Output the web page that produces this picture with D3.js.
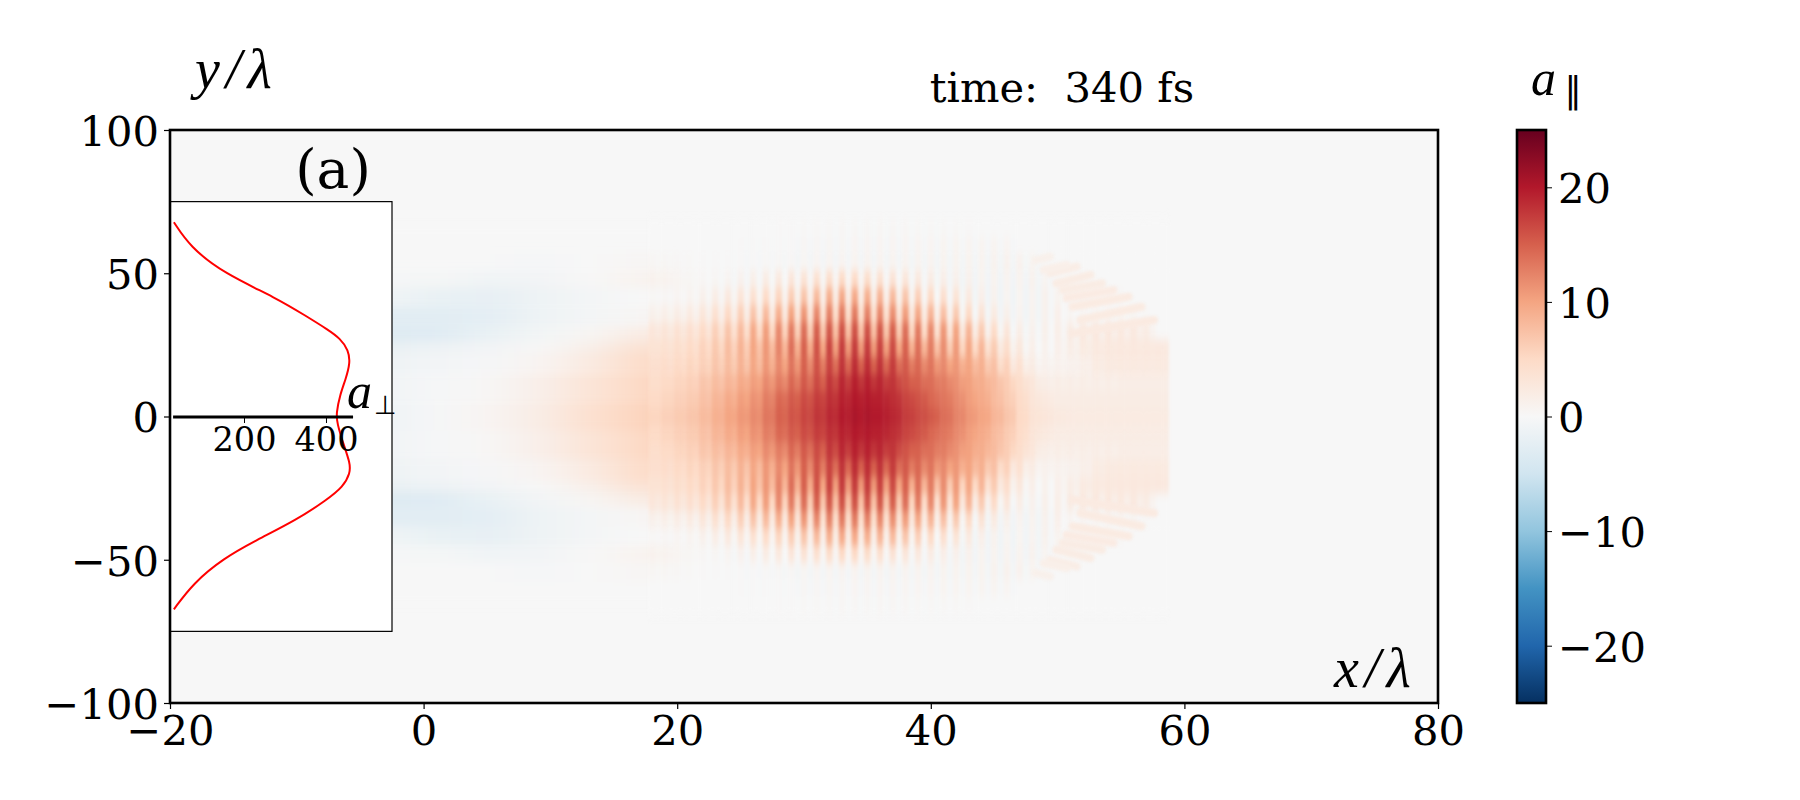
<!DOCTYPE html>
<html><head><meta charset="utf-8">
<script src="https://cdn.jsdelivr.net/npm/d3@7"></script>
<style>html,body{margin:0;padding:0;background:#fff}svg{display:block}text{fill:#000}</style>
</head><body><svg id="c" width="1800" height="800"></svg>
<script>
const xTicks=[-20,0,20,40,60,80];
const yTicks=[-100,-50,0,50,100];
const cbTicks=[-20,-10,0,10,20];
const insetTicks=[200,400];
const rdbu=["#053061","#2166ac","#4393c3","#92c5de","#d1e5f0","#f7f7f7","#fddbc7","#f4a582","#d6604d","#b2182b","#67001f"];
const rdbuStops=[-25,-20,-15,-10,-5,0,5,10,15,20,25];

// smooth low field, mirrored in y
const coarseX=[-7,-3,1,5,9,13,17,21,25];
const coarseY=[0,10,20,25,28,35,42,48,54,62];
const coarseField=[
[-1,-1,-.3,.5,1.8,4,5.5,7,11],
[-.8,-.8,-.2,.2,1.4,3.2,5,6.5,9],
[-1.2,-1.2,-.7,-.3,.5,2.2,4.5,5.5,6.5],
[-1.8,-1.8,-1.3,-.7,0,1.2,3.5,4,4.5],
[-3.3,-3.3,-3.2,-1.8,-.6,.4,2,2.8,3.2],
[-2.8,-2.8,-2.8,-2.5,-1.2,-.5,.3,1,1.5],
[-.9,-.9,-1.8,-2.1,-1.2,-.5,0,0,.3],
[-.2,-.2,-.4,-.9,-.7,0,.8,.8,.2],
[0,0,0,0,-.2,0,.3,.4,.1],
[0,0,0,0,0,0,0,0,0]];

// stripe field: one crest and one trough per wavelength, x = 18 .. 58
const stripeX=d3.range(18,59);
const stripeY=[0,6,12,18,24,30,36,42,48,54,60,66];
const crest=[
[5.5,6,6.5,7,8,9,10,11,12,13.5,15,16,17,18,19,20,20.5,20.5,20,19,17.5,16.5,15.5,14,12.5,11,10,8.5,7,5,3.5,3,2.5,2.3,2.2,2.2,2.2,2.2,2.2,2.2,2.2],
[5,5.5,6,6.5,7.5,8.5,9.5,10.5,11.5,13,14.5,15.5,16.5,17.5,18.5,19.5,20,20,19.5,18.5,17,16,14.5,13.5,12,10.5,9.5,8,6.5,4.8,3.2,2.5,2,2,2,2,2,2,2,2,2],
[4.5,5,5.5,6,7,7.8,8.5,9.5,10.5,12,13,14.5,15.5,16.5,18,19,19.5,19.5,19,18,16,15,14,13,11.5,10.3,9.3,8,6.3,4.5,3,1.8,1.8,1.8,1.8,1.8,1.8,1.8,1.8,1.8,1.8],
[4.2,4.6,5,5.5,6,7,7.8,8.8,9.8,11,12,13.5,15,16,17,18,18.5,18.5,18,17.5,15.5,14.5,13.5,12,11,10,9,7.5,5.8,4,2,1,1,1,1.5,2.2,2.4,2.4,2.4,2.4,2.4],
[3.6,4,4.5,5,5.8,6.8,7.8,8.8,10,11,12.5,14,15,16,17,17.5,17.5,17.5,17,16.5,15,14,13,11.8,10.8,9.8,8.5,6.5,4.5,2.8,1.5,1,1.4,1.8,2.3,2.5,2.6,2.6,2.6,2.6,2.6],
[3,3.3,3.8,4.2,5,6,7,8,9.5,10.5,12,13,14,15,15.5,16,16,16,15.5,15,14,13,12,11,10,8.5,6.5,4.8,3,1.8,1,1.2,1.6,2,2.5,2.6,2.6,2.5,2.5,2,0],
[1.2,1.5,1.8,2.2,3,4,5,6,7,8,9,10,11,12,12.5,13,13,12.5,12,11.5,10.5,9.5,8.5,7.5,6.5,5,3.5,2.2,1.2,.7,.8,1,1.4,.5,.5,.5,.5,.5,.4,.2,0],
[.2,.3,.5,.7,1.2,1.8,2.5,3.2,4,4.8,5.5,6.2,7,8,9,9.5,9.5,9,8.5,8,7,6,5,4.2,3.4,2.4,1.5,.9,.6,.6,.7,1,.8,.3,.3,.3,.3,.2,0,0,0],
[1,.9,.6,.4,.3,.4,.6,1,1.5,2,2.5,3,3.5,4,4.5,5,5,4.5,4,3.5,3,2.5,2,1.6,1.2,1,.8,.8,.7,.8,.9,.6,.2,.2,.2,0,0,0,0,0,0],
[.4,.4,.3,.2,.1,.1,.1,.1,.1,.2,.3,.3,.4,.5,.6,.7,.7,.7,.7,.7,.7,.7,.7,.8,.8,.8,.8,.9,1,1,.6,.2,0,0,0,0,0,0,0,0,0],
[0,0,0,0,0,0,0,.1,.1,.1,.1,.1,.3,.3,.4,.4,.5,.5,.5,.5,.5,.5,.5,.6,.6,.6,.6,.6,.5,0,0,0,0,0,0,0,0,0,0,0,0],
[0,0,0,0,0,0,0,0,0,0,.1,.1,.2,.2,.2,.3,.3,.3,.3,.3,.3,.2,.2,.2,.2,.1,0,0,0,0,0,0,0,0,0,0,0,0,0,0,0]];
const trough=[
[5.5,6,6.5,7,7.8,8.8,9.8,10.8,11.7,13.2,14.6,15.6,16.6,17.6,18.6,19.6,20,20,19.6,18.6,17.2,16.2,15,13.6,12.2,10.7,9.7,8.2,6.7,4.7,3.3,2.8,2.4,2.2,2.2,2.2,2.2,2.2,2.2,2.2,2.2],
[5,5.5,6,6.5,7.2,8.2,9,10,11,12.5,14,15,16,17,18,19,19.5,19.5,19,18,16.5,15.5,14,13,11.5,10,9,7.5,6,4.3,2.8,2.2,2,2,2,2,2,2,2,2,2],
[4.5,5,5.5,5.8,6.6,7.2,8,9,10,11,12,13,14,15,16.5,17.5,18,18,17.5,16.5,15,14,13,12,10.5,9.3,8.3,7,5.3,3.5,2,1.5,1.5,1.5,1.5,1.5,1.5,1.8,1.8,1.8,1.8],
[4.2,4.2,4.6,5,5.5,6,6.5,7,8,9,10,11,12,13,14,14.5,15,15,14.5,14,13,12,11,10,9,8,6.5,4.5,2.5,1.5,.7,.7,.8,1,1.4,2,2.3,2.3,2.3,2.3,2.3],
[3.6,3.6,4,4.3,4.8,5.3,5.8,6.3,7.3,8,8.5,9,9.5,10,10.5,11,11,11,10.5,10,9,8.5,7.5,6.5,5.5,5,4,2.5,1,.3,0,0,.6,1.2,2,2.3,2.5,2.5,2.5,2.5,2.5],
[2.5,2.5,2.8,3,3.2,3.5,4,4.3,5,5.2,5.7,6,6.5,7,7.5,7.5,7.5,7.5,7,6.5,5.5,4.8,4,3.5,2.8,2,1,.4,-.2,-.4,-.3,0,.3,.8,1.2,1.2,1.5,1.5,1.5,.7,0],
[.8,.8,.9,1,1.2,1.4,1.6,1.8,2,2.3,2.6,3,3.5,4,4.5,4.5,4.5,4.5,4,3.5,2.8,2.2,1.5,1,.4,-.2,-.5,-.7,-.8,-.8,-.6,-.3,0,0,.2,.2,.2,.2,.1,0,0],
[.1,.1,.1,.2,.2,.3,.4,.5,.6,.7,.9,1.1,1.4,1.7,2,2,2,1.8,1.5,1.1,.7,.3,0,-.2,-.4,-.6,-.8,-.9,-.9,-.8,-.6,-.3,0,.1,.1,.1,.1,0,0,0,0],
[.8,.7,.4,.2,0,-.1,-.2,-.2,-.2,-.1,0,.1,.3,.4,.5,.5,.5,.4,.2,0,-.2,-.3,-.4,-.5,-.6,-.7,-.7,-.8,-.8,-.7,-.5,-.3,0,0,0,0,0,0,0,0,0],
[.2,.2,.1,0,0,0,-.1,-.2,-.3,-.3,-.4,-.5,-.5,-.5,-.5,-.5,-.5,-.5,-.5,-.5,-.5,-.5,-.5,-.5,-.5,-.5,-.5,-.5,-.5,-.4,-.3,0,0,0,0,0,0,0,0,0,0],
[0,0,0,0,0,0,0,-.1,-.1,-.1,-.1,-.2,-.2,-.2,-.3,-.3,-.3,-.3,-.3,-.3,-.3,-.3,-.3,-.3,-.3,-.3,-.3,-.2,-.2,0,0,0,0,0,0,0,0,0,0,0,0],
[0,0,0,0,0,0,0,0,0,0,0,0,0,0,-.1,-.1,-.1,-.1,-.1,-.1,-.1,-.1,-.1,0,0,0,0,0,0,0,0,0,0,0,0,0,0,0,0,0,0]];

// fan strokes at the curved front, mirrored in y
const fanX0=[51.2,51.8,51.2,50.7,50.4,49.9,49.4,48.9,48.3];
const fanY0=[29,33.7,38.3,41.3,44.1,46.5,50,51.2,54.6];
const fanX1=[57.6,56.6,55.6,54.4,53.5,52.6,51.5,50.7,49.4];
const fanY1=[33.7,38.3,41.8,44.1,46.5,49.4,52.3,52.9,55.8];
const fanV=[2.3,2.2,2.2,2.1,2,2,1.8,1.5,1.2];

// inset profile a_perp(y)
const profY=[-67.3,-58.2,-49.5,-43.1,-36.1,-29.1,-24.5,-19.8,-16.3,-9.4,-2.3,1.1,7.5,13,18.6,23.2,27.3,30.2,35,41.3,50,59.3,67.8];
const profA=[29,76,150,231,328,402,442,459,459,442,427,425,434,448,459,455,434,406,352,280,150,68,29];

const svg=d3.select("#c");
const L=170,R=1438,T=130,B=703;
const x=d3.scaleLinear().domain([-20,80]).range([L,R]);
const y=d3.scaleLinear().domain([-100,100]).range([B,T]);
const color=d3.scaleLinear().domain(rdbuStops).range(rdbu);
const SERIF="'DejaVu Serif',serif", MATH="'Liberation Serif',serif";
const fmt=d=>String(d).replace("-","\u2212");

const defs=svg.append("defs");
defs.append("clipPath").attr("id","plot").append("rect").attr("x",L).attr("y",T).attr("width",R-L).attr("height",B-T);
function blur(id,sx,sy){
  defs.append("filter").attr("id",id).attr("filterUnits","userSpaceOnUse")
    .attr("x",0).attr("y",0).attr("width",1800).attr("height",800)
    .attr("color-interpolation-filters","sRGB")
    .append("feGaussianBlur").attr("stdDeviation",sx+" "+sy);
}
blur("bCoarse",20,5); blur("bFine",1.4,5); blur("bFan",1.6,1.6);

function bands(list){
  return list.map((v,i)=>[i?(list[i-1]+v)/2:0, i<list.length-1?(v+list[i+1])/2:v+(v-list[i-1])/2]);
}
const field=svg.append("g").attr("clip-path","url(#plot)");
field.append("rect").attr("x",L).attr("y",T).attr("width",R-L).attr("height",B-T).attr("fill",color(0));

function cells(g,rowBands,x0,x1,v){
  [1,-1].forEach(s=>{
    g.append("rect").attr("x",x(x0)).attr("width",x(x1)-x(x0)+.4)
      .attr("y",s>0?y(rowBands[1]):y(-rowBands[0])).attr("height",y(rowBands[0])-y(rowBands[1])+.4)
      .attr("fill",color(v));
  });
}
const gc=field.append("g").attr("filter","url(#bCoarse)");
bands(coarseY).forEach((b,r)=>coarseX.forEach((cx,c)=>cells(gc,b,cx-2,cx+2,coarseField[r][c])));
const gf=field.append("g").attr("filter","url(#bFine)");
bands(stripeY).forEach((b,r)=>stripeX.forEach((sx,c)=>{
  cells(gf,b,sx-.25,sx+.25,crest[r][c]);
  cells(gf,b,sx+.25,sx+.75,trough[r][c]);
}));
const gs=field.append("g").attr("filter","url(#bFan)");
fanX0.forEach((_,i)=>[1,-1].forEach(s=>{
  gs.append("line").attr("x1",x(fanX0[i])).attr("x2",x(fanX1[i]))
    .attr("y1",y(s*fanY0[i])).attr("y2",y(s*fanY1[i]))
    .attr("stroke",color(fanV[i])).attr("stroke-width",8).attr("stroke-linecap","round");
}));

// inset
const aS=d3.scaleLinear().domain([19.5,561]).range([L,392]);
const inset=svg.append("g");
inset.append("rect").attr("x",L).attr("y",y(75)).attr("width",392-L).attr("height",y(-75)-y(75))
  .attr("fill","#fff").attr("stroke","#000").attr("stroke-width",1.2);
inset.append("path").attr("d",d3.line().x(d=>aS(d[0])).y(d=>y(d[1])).curve(d3.curveBasis)(d3.zip(profA,profY)))
  .attr("fill","none").attr("stroke","#ff0000").attr("stroke-width",2);
inset.append("line").attr("x1",aS(27)).attr("x2",aS(466)).attr("y1",y(0)+.5).attr("y2",y(0)+.5).attr("stroke","#000").attr("stroke-width",3);
const ia=inset.append("g").attr("transform",`translate(0,${y(0)+.5})`)
  .call(d3.axisBottom(aS).tickValues(insetTicks).tickSize(6).tickPadding(4));
ia.select(".domain").remove();
ia.selectAll("text").attr("font-family",SERIF).attr("font-size",33.5).attr("fill","#000");

// main axes
const TICK=41.67;
const ax=svg.append("g").attr("transform",`translate(0,${B})`).call(d3.axisBottom(x).tickValues(xTicks).tickSize(6).tickPadding(6).tickFormat(fmt));
const ay=svg.append("g").attr("transform",`translate(${L},0)`).call(d3.axisLeft(y).tickValues(yTicks).tickSize(6).tickPadding(5).tickFormat(fmt));
[ax,ay].forEach(a=>{a.select(".domain").remove();a.selectAll("text").attr("font-family",SERIF).attr("font-size",TICK).attr("fill","#000");a.selectAll("line").attr("stroke-width",1.2)});
ay.selectAll("text").attr("dy","0.37em");
svg.append("rect").attr("x",L).attr("y",T).attr("width",R-L).attr("height",B-T).attr("fill","none").attr("stroke","#000").attr("stroke-width",2.6);

// colour bar
const cbL=1517,cbR=1546;
const cy=d3.scaleLinear().domain([-25,25]).range([B,T]);
const grad=defs.append("linearGradient").attr("id","cb").attr("x1",0).attr("x2",0).attr("y1",1).attr("y2",0);
rdbuStops.forEach((v,i)=>grad.append("stop").attr("offset",(v+25)/50).attr("stop-color",rdbu[i]));
svg.append("rect").attr("x",cbL).attr("y",T).attr("width",cbR-cbL).attr("height",B-T).attr("fill","url(#cb)").attr("stroke","#000").attr("stroke-width",2.6);
const ac=svg.append("g").attr("transform",`translate(${cbR},0)`).call(d3.axisRight(cy).tickValues(cbTicks).tickSize(6).tickPadding(6).tickFormat(fmt));
ac.select(".domain").remove();
ac.selectAll("text").attr("font-family",SERIF).attr("font-size",TICK).attr("fill","#000").attr("dy","0.37em");

// labels
function label(px,py,txt,size,fam,style,anchor){
  return svg.append("text").attr("x",px).attr("y",py).attr("font-family",fam).attr("font-size",size)
    .attr("font-style",style||"normal").attr("text-anchor",anchor||"start").text(txt);
}
label(1062,102,"time:\u00a0\u00a0340 fs",TICK,SERIF,"normal","middle");
label(333,188,"(a)",55,SERIF,"normal","middle");
label(195,88,"y/\u03bb",56,MATH,"italic").attr("letter-spacing",6);
label(1334,687,"x/\u03bb",56,MATH,"italic").attr("letter-spacing",6);
const a1=label(1531,95,"a",50,MATH,"italic");
a1.append("tspan").attr("dx",8).attr("dy",8).attr("font-size",36).attr("font-style","normal").attr("font-family","'DejaVu Sans'").text("\u2225");
const a2=label(347,408,"a",50,MATH,"italic");
a2.append("tspan").attr("dx",2).attr("dy",6).attr("font-size",26).attr("font-style","normal").attr("font-family","'DejaVu Sans'").text("\u22a5");
</script></body></html>
